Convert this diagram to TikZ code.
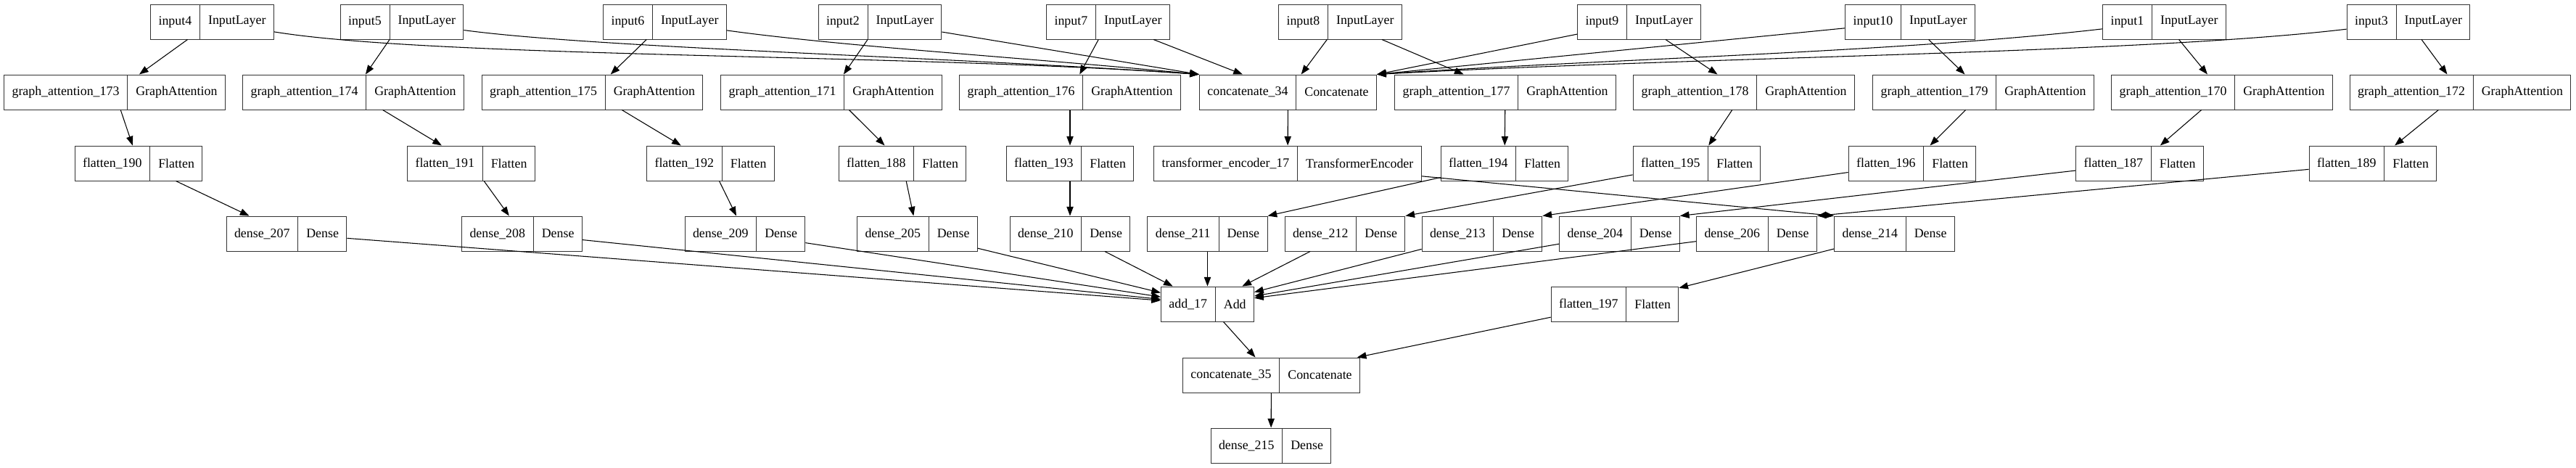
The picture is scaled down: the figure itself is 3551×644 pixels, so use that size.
\documentclass[tikz,border=0pt]{standalone}
\usepackage{fontspec}
\setmainfont{Liberation Serif}
\usetikzlibrary{arrows.meta,shapes.multipart}
\newcommand\layerfont{\fontsize{13.4pt}{15pt}\selectfont}

\begin{document}
\begin{tikzpicture}[x=0.75pt, y=-0.75pt,
  layer/.style={rectangle split, rectangle split horizontal, rectangle split parts=2,
                draw=black!80, line width=0.75pt, inner xsep=8.2pt, inner ysep=0pt,
                minimum height=36pt, font=\layerfont},
  flow/.style={-{Triangle[length=9.5pt, width=7pt]}, line width=0.8pt}]
  \useasboundingbox (0,0) rectangle (3551,644);
  % inputs
  \node[layer] (i4) at (292.5,30) {input4\nodepart{two}InputLayer};
  \node[layer] (i5) at (554,30) {input5\nodepart{two}InputLayer};
  \node[layer] (i6) at (916.5,30) {input6\nodepart{two}InputLayer};
  \node[layer] (i2) at (1213,30) {input2\nodepart{two}InputLayer};
  \node[layer] (i7) at (1527.5,30) {input7\nodepart{two}InputLayer};
  \node[layer] (i8) at (1847.5,30) {input8\nodepart{two}InputLayer};
  \node[layer] (i9) at (2259.5,30) {input9\nodepart{two}InputLayer};
  \node[layer] (i10) at (2633,30) {input10\nodepart{two}InputLayer};
  \node[layer] (i1) at (2983.5,30) {input1\nodepart{two}InputLayer};
  \node[layer] (i3) at (3320,30) {input3\nodepart{two}InputLayer};
  % graph attention + concatenate
  \node[layer] (ga173) at (158,127) {graph\_attention\_173\nodepart{two}GraphAttention};
  \node[layer] (ga174) at (487,127) {graph\_attention\_174\nodepart{two}GraphAttention};
  \node[layer] (ga175) at (816.5,127) {graph\_attention\_175\nodepart{two}GraphAttention};
  \node[layer] (ga171) at (1146,127) {graph\_attention\_171\nodepart{two}GraphAttention};
  \node[layer] (ga176) at (1475,127) {graph\_attention\_176\nodepart{two}GraphAttention};
  \node[layer] (c34) at (1775.5,127) {concatenate\_34\nodepart{two}Concatenate};
  \node[layer] (ga177) at (2075,127) {graph\_attention\_177\nodepart{two}GraphAttention};
  \node[layer] (ga178) at (2404,127) {graph\_attention\_178\nodepart{two}GraphAttention};
  \node[layer] (ga179) at (2734,127) {graph\_attention\_179\nodepart{two}GraphAttention};
  \node[layer] (ga170) at (3063,127) {graph\_attention\_170\nodepart{two}GraphAttention};
  \node[layer] (ga172) at (3391.5,127) {graph\_attention\_172\nodepart{two}GraphAttention};
  % flatten + encoder
  \node[layer] (f190) at (191,225) {flatten\_190\nodepart{two}Flatten};
  \node[layer] (f191) at (649.5,225) {flatten\_191\nodepart{two}Flatten};
  \node[layer] (f192) at (979.5,225) {flatten\_192\nodepart{two}Flatten};
  \node[layer] (f188) at (1244,225) {flatten\_188\nodepart{two}Flatten};
  \node[layer] (f193) at (1475,225) {flatten\_193\nodepart{two}Flatten};
  \node[layer] (te17) at (1775,225) {transformer\_encoder\_17\nodepart{two}TransformerEncoder};
  \node[layer] (f194) at (2074,225) {flatten\_194\nodepart{two}Flatten};
  \node[layer] (f195) at (2339,225) {flatten\_195\nodepart{two}Flatten};
  \node[layer] (f196) at (2636,225) {flatten\_196\nodepart{two}Flatten};
  \node[layer] (f187) at (2949.5,225) {flatten\_187\nodepart{two}Flatten};
  \node[layer] (f189) at (3271,225) {flatten\_189\nodepart{two}Flatten};
  % dense
  \node[layer] (d207) at (395,322) {dense\_207\nodepart{two}Dense};
  \node[layer] (d208) at (719.5,322) {dense\_208\nodepart{two}Dense};
  \node[layer] (d209) at (1027,322) {dense\_209\nodepart{two}Dense};
  \node[layer] (d205) at (1264.5,322) {dense\_205\nodepart{two}Dense};
  \node[layer] (d210) at (1475,322) {dense\_210\nodepart{two}Dense};
  \node[layer] (d211) at (1664.5,322) {dense\_211\nodepart{two}Dense};
  \node[layer] (d212) at (1854,322) {dense\_212\nodepart{two}Dense};
  \node[layer] (d213) at (2043,322) {dense\_213\nodepart{two}Dense};
  \node[layer] (d204) at (2232.5,322) {dense\_204\nodepart{two}Dense};
  \node[layer] (d206) at (2421.5,322) {dense\_206\nodepart{two}Dense};
  \node[layer] (d214) at (2611.5,322) {dense\_214\nodepart{two}Dense};
  % merge
  \node[layer] (add17) at (1664.5,419) {add\_17\nodepart{two}Add};
  \node[layer] (f197) at (2226,419) {flatten\_197\nodepart{two}Flatten};
  \node[layer] (c35) at (1752.5,517) {concatenate\_35\nodepart{two}Concatenate};
  \node[layer] (d215) at (1752,614) {dense\_215\nodepart{two}Dense};

  \draw[flow] (i4) -- (ga173);
  \draw[flow] (i5) -- (ga174);
  \draw[flow] (i6) -- (ga175);
  \draw[flow] (i2) -- (ga171);
  \draw[flow] (i7) -- (ga176);
  \draw[flow] (i8) -- (ga177);
  \draw[flow] (i9) -- (ga178);
  \draw[flow] (i10) -- (ga179);
  \draw[flow] (i1) -- (ga170);
  \draw[flow] (i3) -- (ga172);
  % long edges into concatenate_34 dip under the neighbouring inputs
  \draw[flow] (i4) .. controls (600,80) and (1250,74) .. (c34.north west);
  \draw[flow] (i5) .. controls (820,66) and (1300,78) .. (c34.north west);
  \draw[flow] (i6) .. controls (1160,64) and (1420,80) .. (c34.north west);
  \draw[flow] (i2) -- (c34.north west);
  \draw[flow] (i7) -- (c34);
  \draw[flow] (i8) -- (c34);
  \draw[flow] (i9) -- (c34.north east);
  \draw[flow] (i10) -- (c34.north east);
  \draw[flow] (i1) .. controls (2620,72) and (2200,82) .. (c34.north east);
  \draw[flow] (i3) .. controls (2950,74) and (2350,78) .. (c34.north east);

  \draw[flow] (ga173) -- (f190);
  \draw[flow] (ga174) -- (f191);
  \draw[flow] (ga175) -- (f192);
  \draw[flow] (ga171) -- (f188);
  \draw[flow] (ga176) -- (f193);
  \draw[flow] (c34) -- (te17);
  \draw[flow] (ga177) -- (f194);
  \draw[flow] (ga178) -- (f195);
  \draw[flow] (ga179) -- (f196);
  \draw[flow] (ga170) -- (f187);
  \draw[flow] (ga172) -- (f189);

  \draw[flow] (f190) -- (d207);
  \draw[flow] (f191) -- (d208);
  \draw[flow] (f192) -- (d209);
  \draw[flow] (f188) -- (d205);
  \draw[flow] (f193) -- (d210);
  \draw[flow] (f194) -- (d211.north east);
  \draw[flow] (f195) -- (d212.north east);
  \draw[flow] (f196) -- (d213.north east);
  \draw[flow] (f187) -- (d204.north east);
  \draw[flow] (f189) -- (d206.north east);
  \draw[flow] (te17) -- (d214.north west);

  \draw[flow] (d207) -- (add17);
  \draw[flow] (d208) -- (add17);
  \draw[flow] (d209) -- (add17);
  \draw[flow] (d205) -- (add17);
  \draw[flow] (d210) -- (add17);
  \draw[flow] (d211) -- (add17);
  \draw[flow] (d212) -- (add17);
  \draw[flow] (d213) -- (add17);
  \draw[flow] (d204) -- (add17);
  \draw[flow] (d206) -- (add17);
  \draw[flow] (d214) -- (f197);

  \draw[flow] (add17) -- (c35);
  \draw[flow] (f197) -- (c35);
  \draw[flow] (c35) -- (d215);
\end{tikzpicture}
\end{document}
